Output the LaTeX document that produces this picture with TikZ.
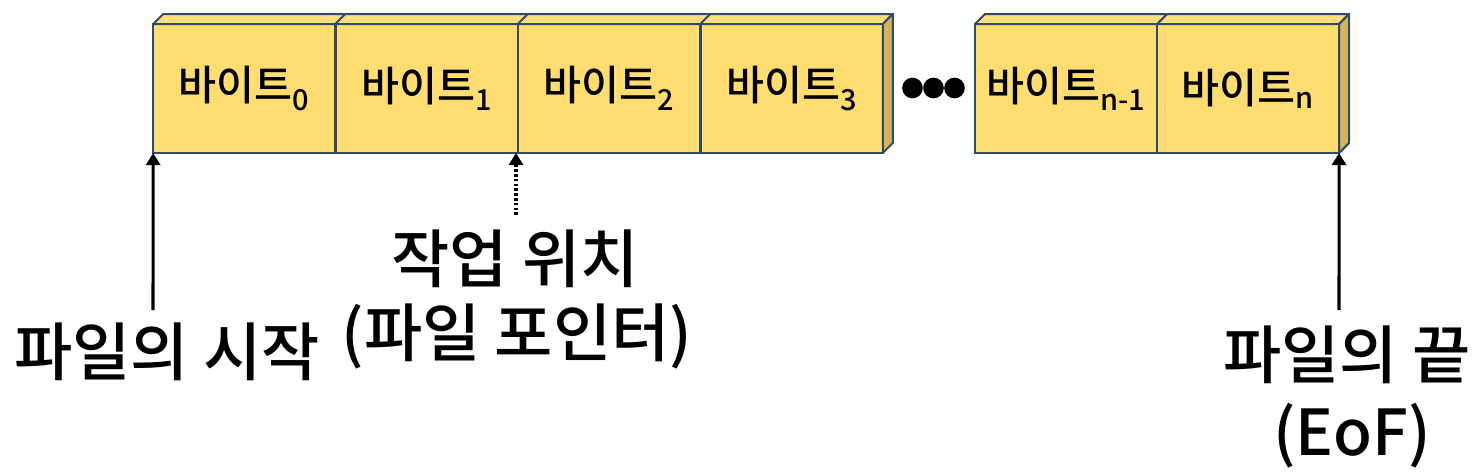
\documentclass[tikz,border=0pt]{standalone}
\usepackage{fontspec}
\setmainfont{Noto Sans CJK KR}[UprightFont={* Medium}]
\usetikzlibrary{arrows.meta}
\definecolor{frontc}{HTML}{FFDD71}
\definecolor{topc}{HTML}{FFE07C}
\definecolor{sidec}{HTML}{D4B45E}
\definecolor{edgec}{HTML}{2F4B68}
\begin{document}
\begin{tikzpicture}[x=0.75pt,y=-0.75pt,
  bytebox/.style={draw=edgec, fill=frontc, line width=1.5pt, minimum width=136.6pt, minimum height=96.75pt, inner sep=0pt, outer sep=0pt, font=\fontsize{31}{36}\selectfont},
  face/.style={draw=edgec, line width=1.5pt, line join=round},
  biglabel/.style={inner sep=0pt, font=\fontsize{47.5}{56}\selectfont},
  dotmark/.style={circle, fill=black, minimum size=15.5pt, inner sep=0pt},
  arr/.style={line width=2.3pt, -{Triangle[length=9pt,width=10.5pt]}},
  dotarr/.style={arr, dash pattern=on 2pt off 1.6pt}
]
\useasboundingbox (0,0) rectangle (1477,472);
% first group
\node[bytebox] (b0) at (244.25,88.5) {바이트\textsubscript{0}};
\node[bytebox] (b1) at (426.75,88.5) {바이트\textsubscript{1}};
\node[bytebox] (b2) at (609.25,88.5) {바이트\textsubscript{2}};
\node[bytebox] (b3) at (791.75,88.5) {바이트\textsubscript{3}};
\draw[face, fill=topc] (b0.north west) -- ++(10,-10) -- ([shift={(10,-10)}]b3.north east) -- (b3.north east) -- cycle;
\foreach \b in {b0,b1,b2} \draw[face] (\b.north east) -- ++(10,-10);
\draw[face, fill=sidec] (b3.north east) -- ++(10,-10) -- ([shift={(10,-10)}]b3.south east) -- (b3.south east) -- cycle;
% dots
\node[dotmark] (d1) at (912.5,88) {};
\node[dotmark] (d2) at (933.5,88) {};
\node[dotmark] (d3) at (954.5,88) {};
% second group
\node[bytebox] (bn1) at (1066,88.5) {바이트\textsubscript{n-1}};
\node[bytebox] (bn) at (1248,88.5) {바이트\textsubscript{n}};
\draw[face, fill=topc] (bn1.north west) -- ++(10,-10) -- ([shift={(10,-10)}]bn.north east) -- (bn.north east) -- cycle;
\draw[face] (bn1.north east) -- ++(10,-10);
\draw[face, fill=sidec] (bn.north east) -- ++(10,-10) -- ([shift={(10,-10)}]bn.south east) -- (bn.south east) -- cycle;
% labels
\node[biglabel] (start) at (167,352) {파일의 시작};
\node[biglabel] (pos) at (515,259) {작업 위치};
\node[biglabel] (ptr) at (517,336) {(파일 포인터)};
\node[biglabel] (end) at (1347,355) {파일의 끝};
\node[biglabel] (eof) at (1352,436) {(EoF)};
% arrows
\coordinate (a0) at (153,310);
\coordinate (a1) at (516,215);
\coordinate (a2) at (1339,310);
\draw[arr] (a0) -- (b0.south west);
\draw[dotarr] (a1) -- (a1 |- b1.south);
\draw[arr] (a2) -- (bn.south east);
\end{tikzpicture}
\end{document}
